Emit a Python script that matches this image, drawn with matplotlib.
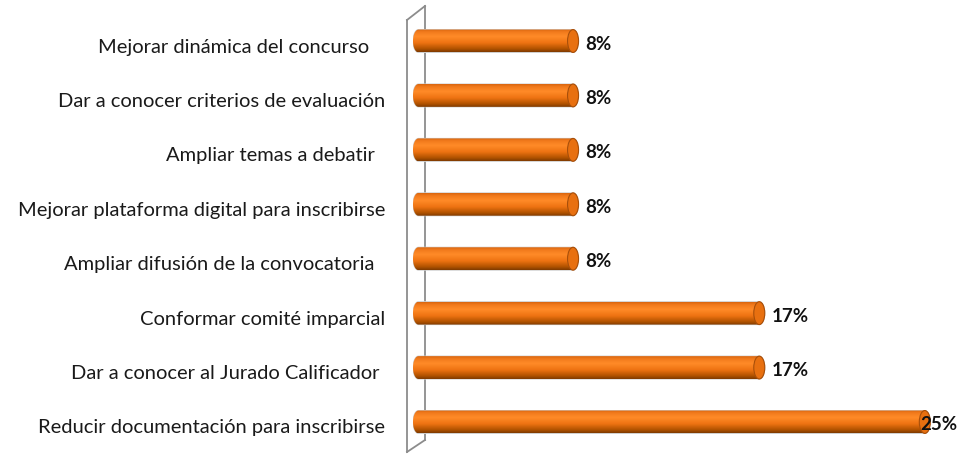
import numpy as np
import matplotlib
matplotlib.use("Agg")
import matplotlib.pyplot as plt
from matplotlib.path import Path
from matplotlib.patches import PathPatch, Ellipse
from matplotlib.colors import LinearSegmentedColormap
from matplotlib.lines import Line2D
from matplotlib.transforms import ScaledTranslation

plt.rcParams['font.family'] = ['Lato', 'DejaVu Sans']

categories = [
    "Reducir documentación para inscribirse",
    "Dar a conocer al Jurado Calificador ",
    "Conformar comité imparcial",
    "Ampliar difusión de la convocatoria  ",
    "Mejorar plataforma digital para inscribirse",
    "Ampliar temas a debatir  ",
    "Dar a conocer criterios de evaluación",
    "Mejorar dinámica del concurso   ",
]
values = [25, 17, 17, 8, 8, 8, 8, 8]
labels = ["25%", "17%", "17%", "8%", "8%", "8%", "8%", "8%"]

W, H = 960, 455
fig = plt.figure(figsize=(W / 100, H / 100), dpi=100)
fig.patch.set_facecolor("white")

x_max = 26.0
ax_left, ax_right = 413, 951
ax_top, ax_bot = 13.8, 449.2
ax = fig.add_axes([ax_left / W, (H - ax_bot) / H,
                   (ax_right - ax_left) / W, (ax_bot - ax_top) / H])
ax.set_axis_off()

# 3-D side wall behind the bars
wall_color = "#8c8c8c"
wall = [((407, 20), (407, 452)), ((425, 6), (425, 440)),
        ((407, 20), (425, 6)), ((407, 452), (425, 440))]
for (x0, y0), (x1, y1) in wall:
    fig.add_artist(Line2D([x0 / W, x1 / W], [1 - y0 / H, 1 - y1 / H],
                          transform=fig.transFigure, color=wall_color,
                          lw=1.3, zorder=0))

cyl = LinearSegmentedColormap.from_list("cyl", [
    (0.00, "#7e3a00"),
    (0.14, "#b05200"),
    (0.40, "#ee7312"),
    (0.68, "#ff8b28"),
    (0.88, "#f27a1c"),
    (1.00, "#d8650e"),
])

bar_h = 0.42
px_per_unit = (ax_right - ax_left) / x_max
rx = 5.5 / px_per_unit  # half-width of the end ellipses, data units
grad = np.linspace(0, 1, 256).reshape(-1, 1)

cat_shift = ScaledTranslation(0, -6 / 100, fig.dpi_scale_trans)
val_shift = ScaledTranslation(0, -3 / 100, fig.dpi_scale_trans)

for i, v in enumerate(values):
    y0, y1 = i - bar_h / 2, i + bar_h / 2
    ry = bar_h / 2
    t1 = np.linspace(np.pi / 2, 3 * np.pi / 2, 40)
    left = np.column_stack([rx + rx * np.cos(t1), i + ry * np.sin(t1)])
    t2 = np.linspace(-np.pi / 2, np.pi / 2, 40)
    right = np.column_stack([v - rx + rx * np.cos(t2), i + ry * np.sin(t2)])
    pts = np.vstack([left, right, left[:1]])
    path = Path(pts, closed=True)
    outline = PathPatch(path, facecolor="none", edgecolor="#cfcfcf",
                        lw=0.8, zorder=2)
    ax.add_patch(outline)
    im = ax.imshow(grad, cmap=cyl, aspect="auto", origin="lower",
                   extent=(0, v, y0, y1), zorder=3, interpolation="bilinear")
    clip = PathPatch(path, transform=ax.transData, facecolor="none",
                     edgecolor="none")
    ax.add_patch(clip)
    im.set_clip_path(clip)
    cap = Ellipse((v - rx, i), 2 * rx, bar_h, facecolor="#e87010",
                  edgecolor="#a84f0a", lw=0.8, zorder=4)
    ax.add_patch(cap)
    tx = min(v + 7 / px_per_unit, 24.5)
    ax.text(tx, i, labels[i], ha="left", va="center", fontsize=13.5,
            fontweight="bold", color="#111111", zorder=5,
            transform=ax.transData + val_shift)

for i, c in enumerate(categories):
    ax.text(-28 / px_per_unit, i, c, ha="right", va="center",
            fontsize=14.5, color="#1a1a1a",
            transform=ax.transData + cat_shift)

ax.set_xlim(0, x_max)
ax.set_ylim(-0.5, len(values) - 0.5)

fig.savefig("out.png", dpi=100, facecolor="white")
